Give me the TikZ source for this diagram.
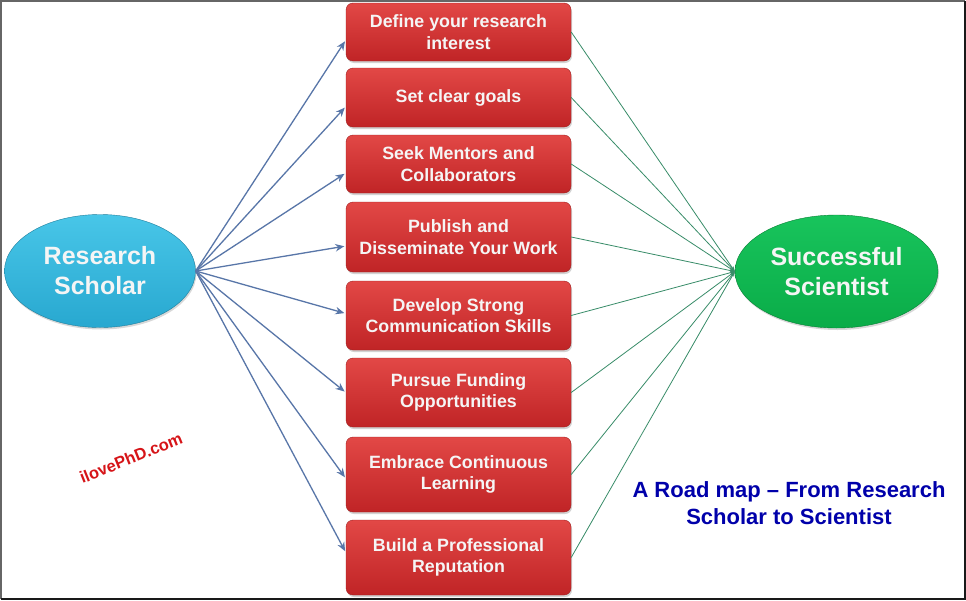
\documentclass[tikz,border=0pt]{standalone}
\usepackage{fontspec}
\setmainfont{Liberation Sans}
\usetikzlibrary{arrows.meta,shapes.geometric,shadows}
\definecolor{boxtop}{RGB}{226,72,70}
\definecolor{boxbot}{RGB}{192,36,38}
\definecolor{boxline}{RGB}{160,32,32}
\definecolor{scholartop}{RGB}{72,198,232}
\definecolor{scholarbot}{RGB}{40,168,208}
\definecolor{scientisttop}{RGB}{24,196,92}
\definecolor{scientistbot}{RGB}{10,172,72}
\definecolor{pathblue}{RGB}{88,118,168}
\definecolor{pathgreen}{RGB}{56,140,104}
\definecolor{titleblue}{RGB}{0,0,170}
\definecolor{markred}{RGB}{214,20,24}
\tikzset{
  stepbox/.style={draw=boxline, rounded corners=7pt, top color=boxtop, bottom color=boxbot,
    minimum width=225pt, align=center, text=white!96!black,
    font=\fontsize{17.8}{21.5}\selectfont\bfseries,
    drop shadow={opacity=0.35, shadow xshift=1pt, shadow yshift=-2pt}},
  goal/.style={ellipse, draw=#1bot!75!black, top color=#1top, bottom color=#1bot,
    text=white!96!black, align=center, inner sep=0pt,
    font=\fontsize{25}{30}\selectfont\bfseries,
    drop shadow={opacity=0.3, shadow xshift=1pt, shadow yshift=-2pt}},
  toBox/.style={pathblue, line width=1.3pt, shorten >=1.5pt, -{Stealth[length=9pt,width=7.5pt]}},
  toGoal/.style={pathgreen, line width=0.8pt, -{Stealth[length=5pt,width=4pt]}}
}
\begin{document}
\begin{tikzpicture}[x=1pt,y=-1pt]
    \useasboundingbox (0,0) rectangle (966,600);
    \fill[white] (0,0) rectangle (966,600);
    % frame
    \draw[black!60, line width=2pt] (1,599) -- (1,1) -- (965,1);
    \draw[black!90, line width=2.5pt] (965,1) -- (965,599) -- (1,599);
    % start and goal
    \node[goal=scholar, minimum width=191pt, minimum height=113pt] (rs) at (100,271) {Research\\Scholar};
    \node[goal=scientist, minimum width=203pt, minimum height=113pt] (ss) at (836.5,271.5) {Successful\\Scientist};
    % steps
    \foreach \i/\y/\h/\txt in {1/32/58/{Define your research\\interest},
                               2/97.5/59/{Set clear goals},
                               3/164/58/{Seek Mentors and\\Collaborators},
                               4/237/70/{Publish and\\Disseminate Your Work},
                               5/315.5/69/{Develop Strong\\Communication Skills},
                               6/392.5/69/{Pursue Funding\\Opportunities},
                               7/474.5/75/{Embrace Continuous\\Learning},
                               8/557.5/75/{Build a Professional\\Reputation}}
        \node[stepbox, minimum height=\h pt] (b\i) at (458.5,\y) {\txt};
    % scholar to steps
    \foreach \i/\dy in {1/8,2/9,3/9,4/9,5/-2,6/0,7/4,8/-5}
        \draw[toBox] (rs.east) -- ([yshift=-\dy pt]b\i.west);
    % steps to scientist
    \foreach \i in {1,...,8}
        \draw[toGoal] (b\i.east) -- (ss.west);
    % texts
    \node[markred, rotate=22, font=\fontsize{16.5}{20}\selectfont\bfseries] (mark) at (131,458) {ilovePhD.com};
    \node[titleblue, align=center, font=\fontsize{22}{27}\selectfont\bfseries] (title) at (789,503) {A Road map – From Research\\Scholar to Scientist};
\end{tikzpicture}
\end{document}
